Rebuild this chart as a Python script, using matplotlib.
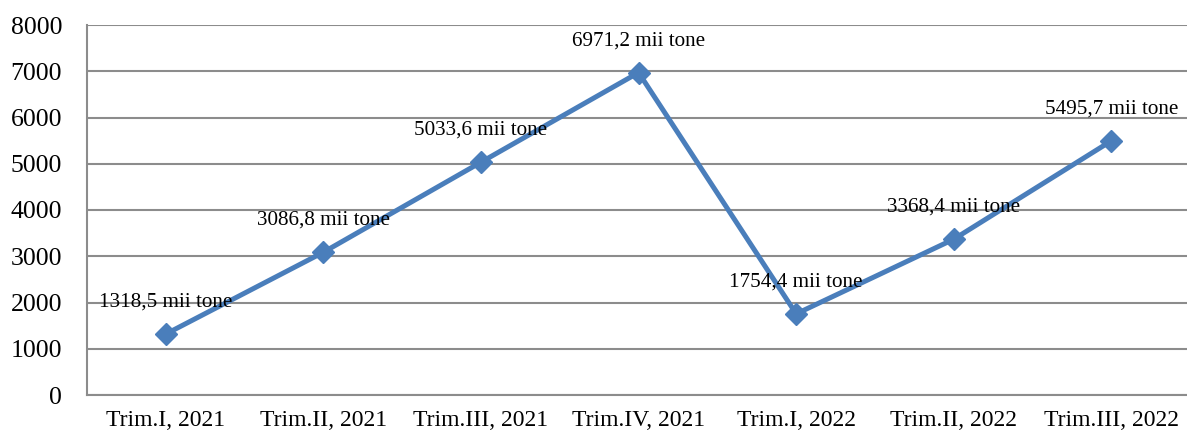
import matplotlib
matplotlib.use("Agg")
import matplotlib.pyplot as plt

categories = ["Trim.I, 2021", "Trim.II, 2021", "Trim.III, 2021", "Trim.IV, 2021",
              "Trim.I, 2022", "Trim.II, 2022", "Trim.III, 2022"]
values = [1318.5, 3086.8, 5033.6, 6971.2, 1754.4, 3368.4, 5495.7]
labels = ["1318,5 mii tone", "3086,8 mii tone", "5033,6 mii tone", "6971,2 mii tone",
          "1754,4 mii tone", "3368,4 mii tone", "5495,7 mii tone"]
yticks = [0, 1000, 2000, 3000, 4000, 5000, 6000, 7000, 8000]

plt.rcParams['font.family'] = ['Liberation Serif', 'DejaVu Serif']

fig = plt.figure(figsize=(11.87, 4.32), dpi=100)
ax = fig.add_axes([87/1187, 37/432, 1 - 87/1187, 370/432])

grid_color = "#8c8c8c"
x = list(range(len(categories)))
ax.plot(x, values, color="#4A7EBB", linewidth=3.6, marker="D", markersize=11,
        markerfacecolor="#4A7EBB", markeredgecolor="#4A7EBB", zorder=3)

for xi, v, lab in zip(x, values, labels):
    ax.annotate(lab, (xi, v), xytext=(0, 23), textcoords="offset points",
                ha="center", va="center", fontsize=15.2, color="black", zorder=4)

ax.set_xlim(-0.5, 6.48)
ax.set_ylim(0, 8000)
ax.set_yticks(yticks)
ax.set_yticklabels([str(t) for t in yticks])
ax.set_xticks(x)
ax.set_xticklabels(categories)
ax.tick_params(axis="y", length=0, pad=18, labelsize=18.5)
ax.tick_params(axis="x", length=0, pad=11, labelsize=17)

ax.grid(axis="y", color=grid_color, linewidth=1.5)
ax.set_axisbelow(True)
for s in ["top", "right"]:
    ax.spines[s].set_visible(False)
for s in ["left", "bottom"]:
    ax.spines[s].set_color(grid_color)
    ax.spines[s].set_linewidth(1.5)

fig.savefig("out.png", dpi=100)
